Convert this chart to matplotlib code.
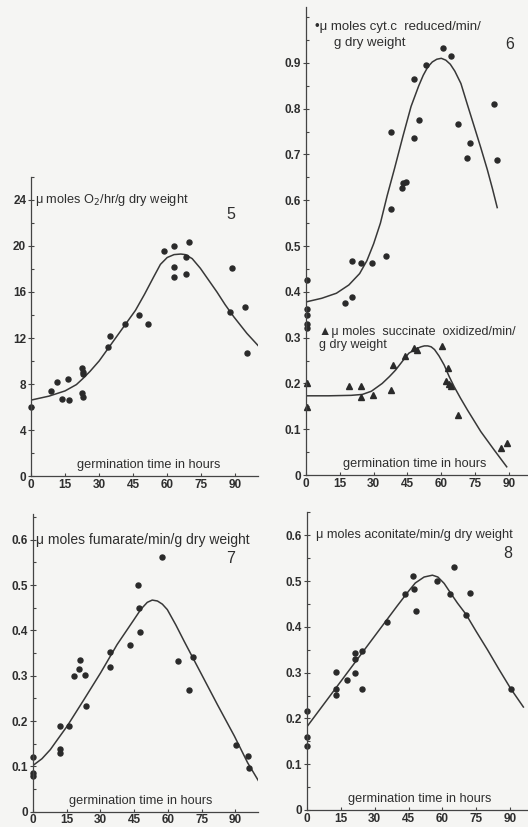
import matplotlib
matplotlib.use("Agg")
import matplotlib.pyplot as plt
from matplotlib.ticker import MultipleLocator

plt.rcParams['font.family'] = ['Liberation Sans', 'DejaVu Sans']

# ---------------- data ----------------
x_ticks = [0, 15, 30, 45, 60, 75, 90]
x_ticklabels = ["0", "15", "30", "45", "60", "75", "90"]

# Panel 5: O2 uptake
p5_t = [0, 8.8, 11.3, 13.5, 16.5, 16.8, 22.4, 22.7, 23.0, 22.4, 22.7, 34.1, 34.9, 41.2,
        47.4, 51.5, 58.4, 63.2, 63.2, 63.2, 68.1, 68.1, 69.6, 87.5, 88.5, 94.1, 95.3]
p5_v = [6.0, 7.4, 8.2, 6.7, 8.4, 6.65, 9.35, 9.05, 8.85, 7.2, 6.85, 11.2, 12.2, 13.2,
        14.0, 13.2, 19.6, 20.0, 18.2, 17.3, 17.55, 19.0, 20.35, 14.3, 18.1, 14.7, 10.7]
p5_curve_t = [0, 8, 15, 20, 23, 26, 30, 34, 38, 42, 46, 50, 54, 57, 60, 63, 66, 68,
              71, 74.6, 78, 81.9, 85.5, 89.3, 95.1, 101.8]
p5_curve_v = [6.6, 6.95, 7.4, 7.95, 8.5, 9.1, 10.0, 11.1, 12.2, 13.3, 14.4, 15.8, 17.3,
              18.4, 19.0, 19.25, 19.3, 19.25, 18.9, 18.06, 17.1, 16.0, 14.9, 13.85, 12.4, 10.96]
p5_yticks = [0, 4, 8, 12, 16, 20, 24]
p5_yticklabels = ["0", "4", "8", "12", "16", "20", "24"]

# Panel 6: cytochrome c reduction (circles) and succinate oxidation (triangles)
p6_cyt_t = [0.4, 0.4, 0.4, 0.4, 0.4, 17.3, 20.3, 20.3, 24.2, 29.1, 35.3, 37.6, 37.6, 42.5,
            42.8, 44.4, 47.8, 48.1, 50.3, 53.2, 60.7, 64.5, 67.6, 71.3, 72.8, 83.4, 84.8]
p6_cyt_v = [0.425, 0.362, 0.349, 0.330, 0.322, 0.376, 0.389, 0.468, 0.462, 0.462, 0.479,
            0.750, 0.580, 0.627, 0.637, 0.640, 0.737, 0.865, 0.775, 0.895, 0.932, 0.915,
            0.766, 0.692, 0.726, 0.810, 0.688]
p6_cyt_curve_t = [0, 7, 13.5, 19, 23.8, 27, 30, 33, 36, 39.3, 43, 46.6, 50, 52, 54, 56,
                  58, 60, 62, 64, 66, 68.7, 71.5, 74.6, 77.5, 80.4, 82.7, 84.8]
p6_cyt_curve_v = [0.378, 0.386, 0.397, 0.415, 0.44, 0.468, 0.505, 0.55, 0.61, 0.67, 0.74,
                  0.805, 0.85, 0.873, 0.891, 0.902, 0.908, 0.910, 0.906, 0.897, 0.882,
                  0.855, 0.81, 0.761, 0.715, 0.667, 0.625, 0.584]
p6_succ_t = [0.4, 0.4, 19.1, 24.5, 24.5, 29.8, 37.9, 38.5, 43.7, 47.8, 49.3, 60.3, 63.1,
             62.1, 63.5, 64.4, 67.5, 86.3, 89.2]
p6_succ_v = [0.2015, 0.149, 0.194, 0.194, 0.170, 0.175, 0.186, 0.240, 0.260, 0.277, 0.272,
             0.282, 0.233, 0.205, 0.199, 0.194, 0.131, 0.060, 0.069]
p6_succ_curve_t = [0, 10, 20, 25, 29, 33.8, 37, 39.7, 43, 45.6, 49, 51, 52.5, 54, 55.5,
                   57, 59, 61.3, 63.5, 65.7, 68.5, 71.6, 77.5, 83.4, 89]
p6_succ_curve_v = [0.173, 0.173, 0.174, 0.176, 0.183, 0.200, 0.215, 0.229, 0.250, 0.266,
                   0.276, 0.280, 0.282, 0.282, 0.280, 0.274, 0.260, 0.240, 0.215, 0.193,
                   0.168, 0.142, 0.095, 0.055, 0.018]
p6_yticks = [0, 0.1, 0.2, 0.3, 0.4, 0.5, 0.6, 0.7, 0.8, 0.9]
p6_yticklabels = ["0", "0.1", "0.2", "0.3", "0.4", "0.5", "0.6", "0.7", "0.8", "0.9"]

# Panel 7: fumarase
p7_t = [0, 0, 0, 11.9, 11.9, 11.9, 15.9, 18.4, 20.8, 20.6, 23.0, 23.6, 34.2, 34.2, 43.1,
        46.7, 47.1, 47.4, 57.5, 64.5, 69.4, 71.3, 90.2, 95.4, 96.1]
p7_v = [0.120, 0.086, 0.079, 0.189, 0.139, 0.130, 0.189, 0.299, 0.334, 0.315, 0.302, 0.233,
        0.352, 0.319, 0.368, 0.500, 0.449, 0.396, 0.561, 0.332, 0.269, 0.341, 0.147, 0.124,
        0.097]
p7_curve_t = [0, 4, 7.7, 11, 15.2, 22.6, 30, 37.4, 44.9, 48, 50.8, 53, 55.3, 57.5, 59.7,
              63.5, 67.2, 74.6, 82, 89.5, 95.4, 100.6]
p7_curve_v = [0.102, 0.117, 0.137, 0.160, 0.189, 0.247, 0.306, 0.369, 0.424, 0.447, 0.462,
              0.467, 0.465, 0.458, 0.446, 0.412, 0.376, 0.306, 0.236, 0.167, 0.108, 0.065]
p7_yticks = [0, 0.1, 0.2, 0.3, 0.4, 0.5, 0.6]
p7_yticklabels = ["0", "0.1", "0.2", "0.3", "0.4", "0.5", "0.6"]

# Panel 8: aconitase
p8_t = [0, 0, 0, 12.8, 12.8, 12.8, 17.6, 21.2, 21.2, 21.2, 24.2, 24.6, 35.4, 43.4, 47.2,
        47.5, 48.2, 57.8, 63.4, 65.2, 70.4, 72.3, 90.3]
p8_v = [0.217, 0.160, 0.140, 0.302, 0.265, 0.252, 0.284, 0.342, 0.329, 0.300, 0.347, 0.265,
        0.411, 0.471, 0.511, 0.482, 0.435, 0.500, 0.473, 0.531, 0.427, 0.475, 0.265]
p8_curve_t = [0, 10, 20, 30, 40, 45, 48, 51.9, 55.6, 58, 60.8, 63.5, 66.7, 70.4, 75, 80,
              85, 90.3, 95.9]
p8_curve_v = [0.182, 0.248, 0.314, 0.380, 0.446, 0.478, 0.496, 0.509, 0.513, 0.509, 0.495,
              0.475, 0.452, 0.428, 0.390, 0.350, 0.308, 0.265, 0.225]
p8_yticks = [0, 0.1, 0.2, 0.3, 0.4, 0.5, 0.6]
p8_yticklabels = ["0", "0.1", "0.2", "0.3", "0.4", "0.5", "0.6"]

# ---------------- style ----------------
BG = '#f5f5f3'
INK = '#2a2a2a'
TXT = '#2e2e2e'

fig = plt.figure(figsize=(5.28, 8.27), dpi=100, facecolor=BG)


def make_axes(rect, xlim, ylim, yticks, yticklabels, yminor):
    ax = fig.add_axes(rect)
    ax.set_facecolor('none')
    for s in ('top', 'right'):
        ax.spines[s].set_visible(False)
    for s in ('left', 'bottom'):
        ax.spines[s].set_color('#444444')
        ax.spines[s].set_linewidth(0.9)
    ax.set_xlim(*xlim)
    ax.set_ylim(*ylim)
    ax.set_xticks(x_ticks)
    ax.set_xticklabels(x_ticklabels, fontweight='bold')
    ax.set_yticks(yticks)
    ax.set_yticklabels(yticklabels, fontweight='bold')
    ax.yaxis.set_minor_locator(MultipleLocator(yminor))
    ax.tick_params(axis='x', direction='in', length=2.5, width=0.8, colors='#444444',
                   labelcolor=TXT, labelsize=8.5, pad=2)
    ax.tick_params(axis='y', which='major', direction='inout', length=5, width=0.8,
                   colors='#444444', labelcolor=TXT, labelsize=8.5, pad=1)
    ax.tick_params(axis='y', which='minor', direction='in', length=2.5, width=0.8,
                   colors='#444444')
    return ax


def germ(ax, x, y):
    ax.text(x, y, "germination time in hours", transform=ax.transAxes, ha='center',
            va='center', fontsize=9.2, color=TXT)


mk = dict(color=INK, markersize=3.6, linestyle='none', clip_on=False)
ln = dict(color='#383838', linewidth=1.1, solid_joinstyle='round')

# Panel 5
ax5 = make_axes([0.0587, 0.4244, 0.430, 0.3616], (0, 100), (0, 26), p5_yticks,
                p5_yticklabels, 2)
ax5.plot(p5_curve_t, p5_curve_v, **ln)
ax5.plot(p5_t, p5_v, marker='o', **mk)
ax5.text(0.018, 0.923, "\u03bc moles O$_2$/hr/g dry weight", transform=ax5.transAxes,
         ha='left', va='center', fontsize=9.2, color=TXT)
ax5.text(0.881, 0.873, "5", transform=ax5.transAxes, ha='center', va='center',
         fontsize=11.5, color=TXT)
germ(ax5, 0.52, 0.037)

# Panel 6
ax6 = make_axes([0.5795, 0.4256, 0.4186, 0.5659], (0, 98), (0, 1.022), p6_yticks,
                p6_yticklabels, 0.05)
ax6.plot(p6_cyt_curve_t, p6_cyt_curve_v, **ln)
ax6.plot(p6_succ_curve_t, p6_succ_curve_v, **ln)
ax6.plot(p6_cyt_t, p6_cyt_v, marker='o', **mk)
ax6.plot(p6_succ_t, p6_succ_v, marker='^', **dict(mk, markersize=4.2))
ax6.text(0.041, 0.957, "\u2022\u03bc moles cyt.c  reduced/min/", transform=ax6.transAxes,
         ha='left', va='center', fontsize=9.5, color=TXT)
ax6.text(0.127, 0.923, "g dry weight", transform=ax6.transAxes,
         ha='left', va='center', fontsize=9.5, color=TXT)
ax6.text(0.923, 0.919, "6", transform=ax6.transAxes, ha='center', va='center',
         fontsize=11.5, color=TXT)
ax6.text(0.059, 0.306, "\u25b2\u03bc moles  succinate  oxidized/min/", transform=ax6.transAxes,
         ha='left', va='center', fontsize=9.0, color=TXT)
ax6.text(0.059, 0.278, "g dry weight", transform=ax6.transAxes,
         ha='left', va='center', fontsize=9.0, color=TXT)
germ(ax6, 0.493, 0.0235)

# Panel 7
ax7 = make_axes([0.0625, 0.0185, 0.4261, 0.360], (0, 100), (0, 0.657), p7_yticks,
                p7_yticklabels, 0.05)
ax7.plot(p7_curve_t, p7_curve_v, **ln)
ax7.plot(p7_t, p7_v, marker='o', **mk)
ax7.text(0.013, 0.913, "\u03bc moles fumarate/min/g dry weight", transform=ax7.transAxes,
         ha='left', va='center', fontsize=10.0, color=TXT)
ax7.text(0.876, 0.849, "7", transform=ax7.transAxes, ha='center', va='center',
         fontsize=11.5, color=TXT)
germ(ax7, 0.48, 0.037)

# Panel 8
ax8 = make_axes([0.5814, 0.02056, 0.4167, 0.3603], (0, 97.5), (0, 0.651), p8_yticks,
                p8_yticklabels, 0.05)
ax8.plot(p8_curve_t, p8_curve_v, **ln)
ax8.plot(p8_t, p8_v, marker='o', **mk)
ax8.text(0.04, 0.923, "\u03bc moles aconitate/min/g dry weight", transform=ax8.transAxes,
         ha='left', va='center', fontsize=9.2, color=TXT)
ax8.text(0.914, 0.862, "8", transform=ax8.transAxes, ha='center', va='center',
         fontsize=11.5, color=TXT)
germ(ax8, 0.514, 0.037)

fig.savefig("out.png", dpi=100, facecolor=BG)
